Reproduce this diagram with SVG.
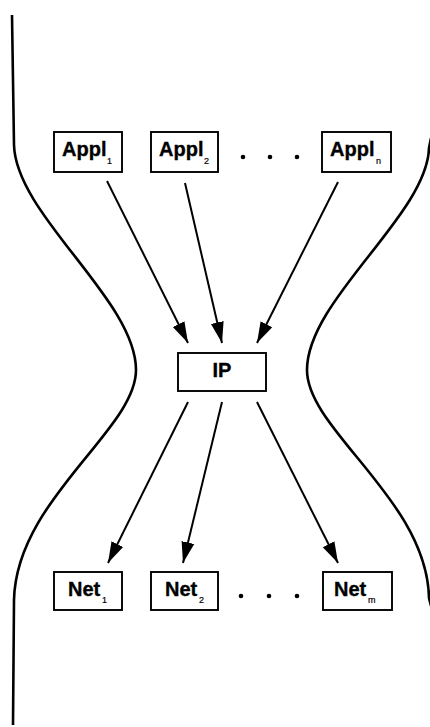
<svg xmlns="http://www.w3.org/2000/svg" width="430" height="727" viewBox="0 0 430 727">
  <style>
    .box { fill: #fff; stroke: #000; stroke-width: 1.9; }
    .lbl { font-family: "Liberation Sans", Arial, sans-serif; font-weight: bold; font-size: 20px; fill: #000; stroke: #000; stroke-width: 0.35; }
    .sub { font-family: "Liberation Sans", Arial, sans-serif; font-size: 9px; fill: #000; stroke: #000; stroke-width: 0.2; }
    .edge { stroke: #000; stroke-width: 2; fill: none; marker-end: url(#head); }
    .waist { stroke: #000; stroke-width: 2.6; fill: none; }
    .dot { fill: #000; }
  </style>
  <defs>
    <marker id="head" markerUnits="userSpaceOnUse" markerWidth="23" markerHeight="16" refX="21" refY="7.5" orient="auto">
      <path d="M0,1 L21,7.5 L0,14 Z" fill="#000"/>
    </marker>
  </defs>
  <rect width="430" height="727" fill="#fff"/>

  <!-- hourglass outline -->
  <g id="hourglass">
    <path class="waist" d="M12,15 L14,145 C16,215 136,300 136,370 C136,430 16,500 14,600 L13,725"/>
    <path class="waist" d="M431,138 L429,148 C427,215 307,300 307,370 C307,430 427,500 429,598 L431,606"/>
  </g>

  <!-- connectors -->
  <g id="connectors">
    <line class="edge" x1="107" y1="181" x2="188" y2="343"/>
    <line class="edge" x1="185" y1="183" x2="222" y2="343"/>
    <line class="edge" x1="338" y1="182" x2="257" y2="343"/>
    <line class="edge" x1="188" y1="402" x2="108" y2="563"/>
    <line class="edge" x1="222" y1="402" x2="183" y2="563"/>
    <line class="edge" x1="257" y1="402" x2="338" y2="563"/>
  </g>

  <!-- application layer -->
  <g id="appl1">
    <rect class="box" x="54" y="132" width="68" height="40"/>
    <text class="lbl" x="62" y="156">Appl</text>
    <text class="sub" x="107" y="164">1</text>
  </g>
  <g id="appl2">
    <rect class="box" x="151" y="132" width="67" height="40"/>
    <text class="lbl" x="159" y="156">Appl</text>
    <text class="sub" x="204" y="164">2</text>
  </g>
  <g id="appl-dots">
    <circle class="dot" cx="243" cy="157" r="2.3"/>
    <circle class="dot" cx="270" cy="157" r="2.3"/>
    <circle class="dot" cx="297" cy="157" r="2.3"/>
  </g>
  <g id="appln">
    <rect class="box" x="322" y="132" width="69" height="40"/>
    <text class="lbl" x="330" y="156">Appl</text>
    <text class="sub" x="376" y="164">n</text>
  </g>

  <!-- internet layer -->
  <g id="ip">
    <rect class="box" x="178" y="353" width="88" height="38"/>
    <text class="lbl" x="222" y="377" text-anchor="middle">IP</text>
  </g>

  <!-- network layer -->
  <g id="net1">
    <rect class="box" x="54" y="572" width="68" height="38"/>
    <text class="lbl" x="68" y="596">Net</text>
    <text class="sub" x="102" y="603">1</text>
  </g>
  <g id="net2">
    <rect class="box" x="151" y="572" width="67" height="38"/>
    <text class="lbl" x="165" y="596">Net</text>
    <text class="sub" x="199" y="603">2</text>
  </g>
  <g id="net-dots">
    <circle class="dot" cx="241" cy="596" r="2.3"/>
    <circle class="dot" cx="269" cy="596" r="2.3"/>
    <circle class="dot" cx="297" cy="596" r="2.3"/>
  </g>
  <g id="netm">
    <rect class="box" x="323" y="572" width="69" height="38"/>
    <text class="lbl" x="334" y="596">Net</text>
    <text class="sub" x="368" y="603">m</text>
  </g>
</svg>
